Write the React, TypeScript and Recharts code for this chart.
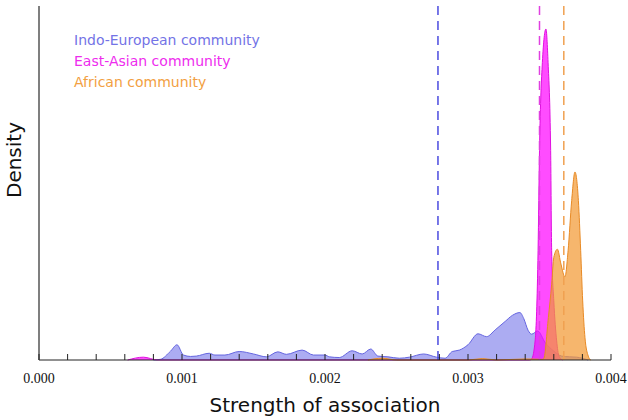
import React from 'react';
import { ComposedChart, Area, XAxis, YAxis, ReferenceLine, Legend } from 'recharts';

// density estimates, x = strength of association, d = density (arbitrary units)
const indoEuropean = [
  { x: 0.0008, d: 0 }, { x: 0.00085, d: 2 }, { x: 0.00092, d: 25 }, { x: 0.000965, d: 43 },
  { x: 0.00101, d: 14 }, { x: 0.00106, d: 10 }, { x: 0.0011, d: 11 }, { x: 0.00119, d: 19 },
  { x: 0.00123, d: 14 }, { x: 0.0013, d: 14 }, { x: 0.0014, d: 24 }, { x: 0.0015, d: 17 },
  { x: 0.00159, d: 9 }, { x: 0.00167, d: 23 }, { x: 0.00173, d: 16 }, { x: 0.00184, d: 28 },
  { x: 0.00192, d: 14 }, { x: 0.002, d: 14 }, { x: 0.00203, d: 9 }, { x: 0.0021, d: 7 },
  { x: 0.00219, d: 26 }, { x: 0.00226, d: 17 }, { x: 0.00232, d: 31 }, { x: 0.00237, d: 11 },
  { x: 0.00244, d: 9 }, { x: 0.00252, d: 5 }, { x: 0.00259, d: 8 }, { x: 0.00269, d: 17 },
  { x: 0.00278, d: 8 }, { x: 0.00284, d: 5 }, { x: 0.00289, d: 24 }, { x: 0.00294, d: 28 },
  { x: 0.003, d: 43 }, { x: 0.00307, d: 74 }, { x: 0.00313, d: 66 }, { x: 0.00319, d: 85 },
  { x: 0.00326, d: 109 }, { x: 0.00331, d: 126 }, { x: 0.003363, d: 134 }, { x: 0.00339, d: 117 },
  { x: 0.00342, d: 84 }, { x: 0.003445, d: 73 }, { x: 0.003487, d: 82 }, { x: 0.00354, d: 49 },
  { x: 0.0036, d: 25 }, { x: 0.003655, d: 11 }, { x: 0.00371, d: 9 }, { x: 0.00376, d: 8 },
  { x: 0.00384, d: 0 },
];

const eastAsian = [
  { x: 0.00062, d: 0 }, { x: 0.00073, d: 8 }, { x: 0.00083, d: 0 }, { x: 0.00343, d: 0 },
  { x: 0.003445, d: 3 }, { x: 0.00347, d: 57 }, { x: 0.00349, d: 309 }, { x: 0.0035, d: 592 },
  { x: 0.00352, d: 840 }, { x: 0.003545, d: 935 }, { x: 0.00356, d: 840 }, { x: 0.003578, d: 592 },
  { x: 0.003585, d: 309 }, { x: 0.0036, d: 167 }, { x: 0.00362, d: 54 }, { x: 0.003636, d: 11 },
  { x: 0.00366, d: 0 },
];

const african = [
  { x: 0.0023, d: 0 }, { x: 0.0024, d: 5 }, { x: 0.0025, d: 0 }, { x: 0.003, d: 0 },
  { x: 0.0031, d: 4 }, { x: 0.0032, d: 0 }, { x: 0.0034, d: 3 }, { x: 0.00352, d: 2 },
  { x: 0.00353, d: 4 }, { x: 0.003562, d: 120 }, { x: 0.003585, d: 214 }, { x: 0.0036, d: 290 },
  { x: 0.003625, d: 313 }, { x: 0.00365, d: 271 }, { x: 0.003678, d: 235 }, { x: 0.0037, d: 309 },
  { x: 0.003725, d: 450 }, { x: 0.003748, d: 531 }, { x: 0.003772, d: 450 }, { x: 0.003788, d: 309 },
  { x: 0.003802, d: 167 }, { x: 0.003818, d: 63 }, { x: 0.003841, d: 11 }, { x: 0.003858, d: 0 },
];

// community means (dashed lines)
const meanIndoEuropean = 0.00279;
const meanEastAsian = 0.0035;
const meanAfrican = 0.00367;

const xTicks = [
  0, 0.0002, 0.0004, 0.0006, 0.0008, 0.001, 0.0012, 0.0014, 0.0016, 0.0018, 0.002,
  0.0022, 0.0024, 0.0026, 0.0028, 0.003, 0.0032, 0.0034, 0.0036, 0.0038, 0.004,
];
const majorTicks = [0, 0.001, 0.002, 0.003, 0.004];

const legendItems = [
  { name: 'Indo-European community', color: '#7373e6' },
  { name: 'East-Asian community', color: '#ee2cee' },
  { name: 'African community', color: '#f2a042' },
];

const sans = '"DejaVu Sans", Verdana, sans-serif';

const LegendBox = () => (
  <div style={{ fontFamily: sans, fontSize: 14, lineHeight: '21px' }}>
    {legendItems.map((it) => (
      <div key={it.name} style={{ color: it.color }}>{it.name}</div>
    ))}
  </div>
);

// ticks point up into the plot, label only on the major ones
const XTick = ({ x, y, payload }: any) => {
  const isMajor = majorTicks.some((m) => Math.abs(m - payload.value) < 1e-9);
  return (
    <g>
      <line x1={x} x2={x} y1={y} y2={y - 6} stroke="#222" />
      {isMajor && (
        <text
          x={x}
          y={y + 23}
          textAnchor="middle"
          fontFamily='"Liberation Serif", "Times New Roman", serif'
          fontSize={14}
          fill="#111"
        >
          {payload.value.toFixed(3)}
        </text>
      )}
    </g>
  );
};

export default function App() {
  return (
    <div style={{ position: 'absolute', left: 0, top: 0, background: '#fff' }}>
      <ComposedChart width={628} height={420} margin={{ top: 6, right: 17, bottom: 0, left: 38 }}>
        <XAxis
          type="number"
          dataKey="x"
          domain={[0, 0.004]}
          ticks={xTicks}
          interval={0}
          height={60}
          tickSize={0}
          tickMargin={0}
          tickLine={false}
          stroke="#222"
          tick={<XTick />}
          label={{
            content: ({ viewBox }: any) => (
              <text
                x={viewBox.x + viewBox.width / 2}
                y={viewBox.y + 52}
                textAnchor="middle"
                fontFamily={sans}
                fontSize={20}
                fill="#111"
              >
                Strength of association
              </text>
            ),
          }}
        />
        <YAxis
          type="number"
          domain={[0, 1000]}
          width={1}
          tick={false}
          tickLine={false}
          axisLine={{ stroke: '#555', strokeWidth: 1.5 }}
          label={{
            content: ({ viewBox }: any) => {
              const lx = viewBox.x + viewBox.width - 18;
              const ly = 160;
              return (
                <text
                  x={lx}
                  y={ly}
                  transform={`rotate(-90 ${lx} ${ly})`}
                  textAnchor="middle"
                  fontFamily={sans}
                  fontSize={20}
                  fill="#111"
                >
                  Density
                </text>
              );
            },
          }}
        />
        <Legend
          layout="horizontal"
          verticalAlign="middle"
          align="center"
          content={<LegendBox />}
          wrapperStyle={{ top: 30, left: 74, width: 'auto' }}
        />
        <Area
          data={indoEuropean}
          dataKey="d"
          type="monotone"
          stroke="#6565e0"
          strokeWidth={1}
          fill="#7474ea"
          fillOpacity={0.6}
          isAnimationActive={false}
        />
        <Area
          data={eastAsian}
          dataKey="d"
          type="monotone"
          stroke="#e010e0"
          strokeWidth={1}
          fill="#ff00ff"
          fillOpacity={0.7}
          isAnimationActive={false}
        />
        <Area
          data={african}
          dataKey="d"
          type="monotone"
          stroke="#e88a25"
          strokeWidth={1}
          fill="#f39a35"
          fillOpacity={0.72}
          isAnimationActive={false}
        />
        <ReferenceLine x={meanIndoEuropean} stroke="#4b4be0" strokeWidth={1.5} strokeDasharray="9 6" />
        <ReferenceLine x={meanEastAsian} stroke="#e040e0" strokeWidth={1.5} strokeDasharray="9 6" />
        <ReferenceLine x={meanAfrican} stroke="#f0a050" strokeWidth={1.5} strokeDasharray="9 6" />
      </ComposedChart>
    </div>
  );
}
